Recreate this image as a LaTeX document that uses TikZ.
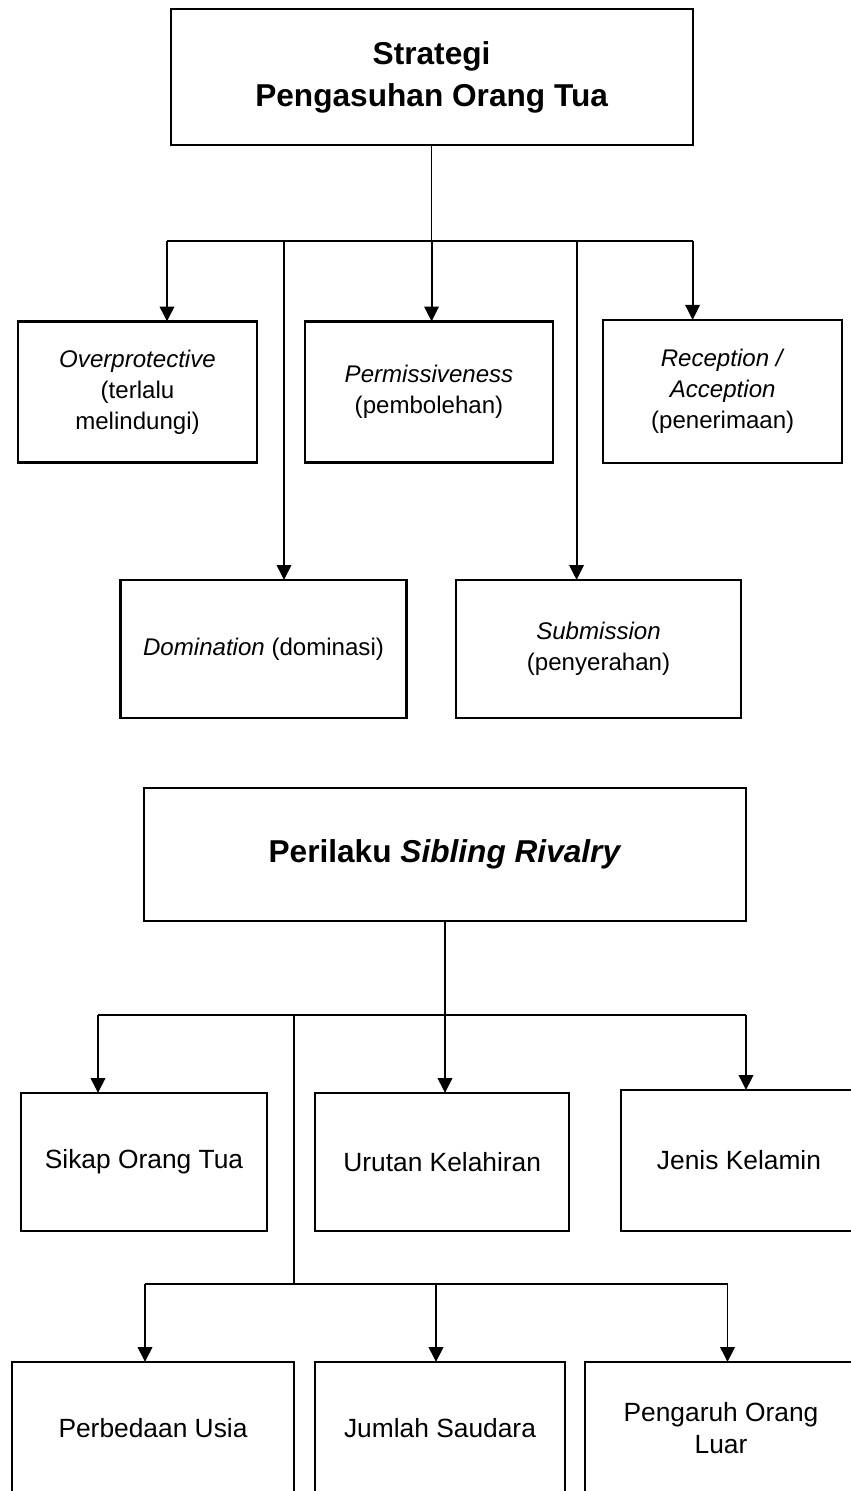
\documentclass[tikz,border=0pt]{standalone}
\usepackage{fontspec}
\setmainfont{Liberation Sans}
\usetikzlibrary{arrows.meta}

\begin{document}
\begin{tikzpicture}[x=0.02cm, y=-0.02cm,
  kotak/.style={draw, line width=1.15pt, align=center, inner sep=0pt, outer sep=0pt},
  judul/.style={font=\fontsize{18}{23.8}\selectfont\bfseries},
  teks/.style={font=\fontsize{13.7}{17.6}\selectfont},
  teksb/.style={font=\fontsize{15}{18.2}\selectfont},
  panah/.style={-{Triangle[length=0.3cm, width=0.29cm]}, line width=1.1pt},
  garis/.style={line width=0.7pt},
  batang/.style={line width=0.9pt}]

  % Parameters
  \def\px{0.02cm}       % one pixel of the page
  \def\barA{241}        % y-position of first bar
  \def\barB{1015}       % y-position of second bar
  \def\barC{1284}       % y-position of third bar

  \useasboundingbox (0,0) rectangle (850,1491);

  % Strategi pengasuhan orang tua
  \node[kotak, judul, minimum width=522*\px, minimum height=136*\px] (strategi) at (431.6,77)
    {Strategi\\Pengasuhan Orang Tua};

  \node[kotak, teks, minimum width=239*\px, minimum height=141*\px] (overprotective) at (137.5,392)
    {\textit{Overprotective}\\(terlalu\\melindungi)};
  \node[kotak, teks, minimum width=248*\px, minimum height=141*\px] (permissiveness) at (429,392)
    {\textit{Permissiveness}\\(pembolehan)};
  \node[kotak, teks, minimum width=239.5*\px, minimum height=142.7*\px] (reception) at (722.7,391.3)
    {\textit{Reception /}\\\textit{Acception}\\(penerimaan)};
  \node[kotak, teks, minimum width=286*\px, minimum height=138*\px] (domination) at (263.5,649)
    {\textit{Domination} (dominasi)};
  \node[kotak, teks, minimum width=285*\px, minimum height=138*\px] (submission) at (598.5,649)
    {\textit{Submission}\\(penyerahan)};

  % First bar and its arrows
  \coordinate (cabangA) at (strategi.south |- 0,\barA);
  \coordinate (a1) at (167,\barA);
  \coordinate (a2) at (284,\barA);
  \coordinate (a3) at (576.6,\barA);
  \coordinate (a4) at (692.6,\barA);
  \draw[garis] (strategi.south) -- (cabangA);
  \draw[batang] (a1) -- (a4);
  \draw[panah] (a1) -- (a1 |- overprotective.north);
  \draw[panah] (a2) -- (a2 |- domination.north);
  \draw[panah] (cabangA) -- (cabangA |- permissiveness.north);
  \draw[panah] (a3) -- (a3 |- submission.north);
  \draw[panah] (a4) -- (a4 |- reception.north);

  % Perilaku sibling rivalry
  \node[kotak, judul, minimum width=602*\px, minimum height=133*\px] (sibling) at (445,854.5)
    {Perilaku \textit{Sibling Rivalry}};

  \node[kotak, teksb, minimum width=246.3*\px, minimum height=138*\px] (sikap) at (144,1162)
    {Sikap Orang Tua};
  \node[kotak, teksb, minimum width=254.5*\px, minimum height=138*\px] (urutan) at (442.2,1162)
    {Urutan Kelahiran};
  \node[kotak, teksb, minimum width=236*\px, minimum height=141*\px] (jenis) at (739,1160.5)
    {Jenis Kelamin};
  \node[kotak, teksb, minimum width=282*\px, minimum height=133*\px] (perbedaan) at (153,1428.5)
    {Perbedaan Usia};
  \node[kotak, teksb, minimum width=250*\px, minimum height=133*\px] (jumlah) at (440,1428.5)
    {Jumlah Saudara};
  \node[kotak, teksb, minimum width=272*\px, minimum height=133*\px] (pengaruh) at (721,1428.5)
    {Pengaruh Orang\\Luar};

  % Second bar and its arrows
  \coordinate (cabangB) at (sibling.south |- 0,\barB);
  \coordinate (b1) at (98,\barB);
  \coordinate (b2) at (294,\barB);
  \coordinate (b3) at (746,\barB);
  \draw[garis] (sibling.south) -- (cabangB);
  \draw[garis] (b1) -- (b3);
  \draw[panah] (b1) -- (b1 |- sikap.north);
  \draw[panah] (cabangB) -- (cabangB |- urutan.north);
  \draw[panah] (b3) -- (b3 |- jenis.north);

  % Third bar and its arrows
  \coordinate (c0) at (294,\barC);
  \coordinate (c1) at (145,\barC);
  \coordinate (c2) at (436,\barC);
  \coordinate (c3) at (727.5,\barC);
  \draw[garis] (b2) -- (c0);
  \draw[batang] (c1) -- (c3);
  \draw[panah] (c1) -- (c1 |- perbedaan.north);
  \draw[panah] (c2) -- (c2 |- jumlah.north);
  \draw[panah] (c3) -- (c3 |- pengaruh.north);

\end{tikzpicture}
\end{document}
